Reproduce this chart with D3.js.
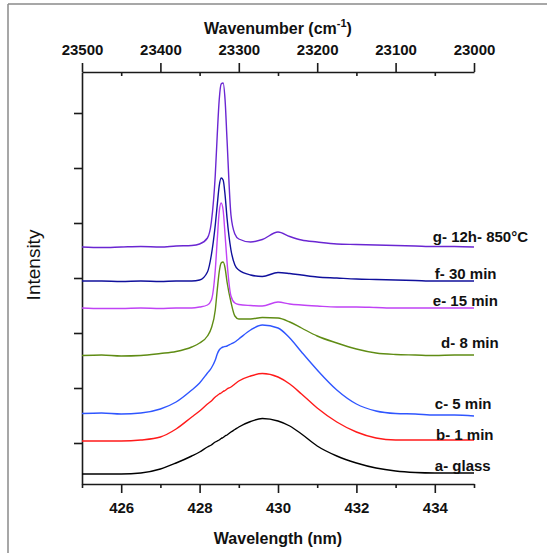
<!DOCTYPE html>
<html>
<head>
<meta charset="utf-8">
<script src="https://cdn.jsdelivr.net/npm/d3@7"></script>
<style>
  html, body { margin: 0; padding: 0; background: #fff; }
  svg { display: block; font-family: "Liberation Sans", Arial, sans-serif; }
</style>
</head>
<body>
<svg id="chart" width="547" height="553"></svg>
<script>
// ---------------- DATA ----------------
const wavelengths = [425, 425.5, 426, 426.5, 427, 427.4, 427.8, 428.0, 428.2, 428.3, 428.4, 428.45, 428.5, 428.55, 428.6, 428.65, 428.7, 428.8, 428.9, 429.0, 429.3, 429.6, 430.0, 430.3, 430.6, 431.0, 431.5, 432.0, 432.5, 433.0, 433.5, 434.0, 434.5, 435];

const seriesA = [10, 10, 10, 11, 15, 21, 28, 32, 37, 39, 42, 43, 44, 45.5, 46.5, 48, 49, 52, 54.5, 57, 62.5, 65.5, 63, 58, 50, 38, 28, 21, 16, 13, 11.5, 11, 11, 11];
const seriesB = [43, 43, 43, 44, 47, 55, 67, 73, 80, 83, 87, 88.5, 90, 91, 92.5, 93.5, 95, 97, 100, 103, 108, 110.5, 107, 100, 90, 76, 62, 52, 46, 44, 44, 44, 44, 44];
const seriesC = [70.5, 71, 70, 71, 75, 82, 94, 101, 111, 116, 124, 130, 134, 136, 137, 137.5, 138, 140, 142, 145, 154, 159, 156, 146, 132, 114, 94, 80, 73, 70.5, 70, 69, 69, 68];
const seriesD = [128.5, 129, 128, 128.5, 130.5, 132.5, 137, 141, 148, 156, 174, 194, 212, 221, 222, 216, 202, 182, 168, 165, 165, 166.5, 166, 162, 156, 148, 141, 135, 131, 129.5, 129, 128.5, 129, 129];
const seriesE = [176, 175.5, 175.5, 176, 175.5, 176, 176, 177, 179, 184, 214, 244, 272, 281, 274, 249, 222, 188, 181, 179.5, 178.5, 178, 182, 180, 179, 178, 177, 177, 176.5, 176, 176, 176, 176, 176];
const seriesF = [203, 203, 202.5, 203, 202.5, 203, 203, 204, 212, 229, 259, 279, 298, 306, 304, 289, 266, 234, 219, 214, 209, 207.5, 211.5, 210.5, 209, 207, 206, 205, 204.5, 204, 203.5, 203, 203, 203];
const seriesG = [237, 236.5, 237, 237.5, 237, 238, 238.5, 240, 246, 262, 309, 349, 384, 400, 401, 384, 344, 269, 250, 245, 242, 244.5, 252, 247.5, 244, 242, 240, 239.5, 239, 238.5, 238, 237.5, 237.5, 237];

const seriesNames = ["a- glass", "b- 1 min", "c- 5 min", "d- 8 min", "e- 15 min", "f- 30 min", "g- 12h- 850°C"];
const seriesColors = ["#000000", "#ff1a1a", "#2f56ff", "#5f8c14", "#c043f5", "#10109c", "#6a26d2"];
const seriesValues = [seriesA, seriesB, seriesC, seriesD, seriesE, seriesF, seriesG];

const xMajorTicks = [426, 428, 430, 432, 434];
const xMinorTicks = [425, 427, 429, 431, 433, 435];
const topMajorTicks = [23500, 23400, 23300, 23200, 23100, 23000];
const topMinorTicks = [23450, 23350, 23250, 23150, 23050];
const yTicks = [41, 96, 151, 206, 261, 316, 371];

// label anchor (x start in nm, baseline in intensity units)
const labelX = [434.0, 434.03, 434.0, 434.16, 433.95, 434.0, 433.95];
const labelY = [13, 44, 75, 136, 178, 205, 242];

// ---------------- LAYOUT ----------------
const svg = d3.select("#chart");
const mLeft = 82, mRight = 474, mTop = 72, mBottom = 484;

const x = d3.scaleLinear().domain([425, 435]).range([mLeft, mRight]);
const xTop = d3.scaleLinear().domain([23500, 23000]).range([mLeft, mRight]);
const y = d3.scaleLinear().domain([0, 412]).range([mBottom, mTop]);

// outer grey frame (top and left)
svg.append("line").attr("x1", 8).attr("x2", 547).attr("y1", 4).attr("y2", 4)
  .attr("stroke", "#8a8a8a").attr("stroke-width", 1.5);
svg.append("line").attr("x1", 8).attr("x2", 8).attr("y1", 4).attr("y2", 553)
  .attr("stroke", "#8a8a8a").attr("stroke-width", 1.5);

const axisColor = "#1a1a1a";
function styleAxis(g) {
  g.selectAll("path.domain").attr("stroke", axisColor).attr("stroke-width", 1.6);
  g.selectAll(".tick line").attr("stroke", axisColor).attr("stroke-width", 1.6);
  g.selectAll("text").attr("fill", "#111").attr("font-size", 15).attr("font-weight", "bold")
    .attr("font-family", "Liberation Sans, Arial, sans-serif");
}

// bottom axis
const gxMinor = svg.append("g").attr("transform", `translate(0,${mBottom})`)
  .call(d3.axisBottom(x).tickValues(xMinorTicks).tickSize(4).tickSizeOuter(0).tickFormat(""));
styleAxis(gxMinor);
const gx = svg.append("g").attr("transform", `translate(0,${mBottom})`)
  .call(d3.axisBottom(x).tickValues(xMajorTicks).tickSize(9).tickSizeOuter(0).tickFormat(d3.format("d")));
styleAxis(gx);
gx.select("path.domain").remove();
gx.selectAll("text").attr("y", 18).attr("dy", "0.71em");

// top axis
const gtMinor = svg.append("g").attr("transform", `translate(0,${mTop})`)
  .call(d3.axisTop(xTop).tickValues(topMinorTicks).tickSize(-4).tickSizeOuter(0).tickFormat(""));
styleAxis(gtMinor);
const gt = svg.append("g").attr("transform", `translate(0,${mTop})`)
  .call(d3.axisTop(xTop).tickValues(topMajorTicks).tickSize(9).tickSizeOuter(0).tickFormat(d3.format("d")));
styleAxis(gt);
gt.select("path.domain").remove();
gt.selectAll("text").attr("y", -17).attr("dy", "0");

// left axis
const gy = svg.append("g").attr("transform", `translate(${mLeft},0)`)
  .call(d3.axisLeft(y).tickValues(yTicks).tickSize(8).tickSizeOuter(0).tickFormat(""));
styleAxis(gy);

// axis titles
svg.append("text").attr("x", (mLeft + mRight) / 2).attr("y", 544)
  .attr("text-anchor", "middle").attr("font-size", 16).attr("font-weight", "bold").attr("fill", "#111")
  .text("Wavelength (nm)");

const topTitle = svg.append("text").attr("x", (mLeft + mRight) / 2).attr("y", 34)
  .attr("text-anchor", "middle").attr("font-size", 16).attr("font-weight", "bold").attr("fill", "#111");
topTitle.append("tspan").text("Wavenumber (cm");
topTitle.append("tspan").attr("font-size", 11).attr("dy", -7).text("-1");
topTitle.append("tspan").attr("dy", 7).text(")");

svg.append("text").attr("transform", "translate(40,265) rotate(-90)")
  .attr("text-anchor", "middle").attr("font-size", 19).attr("fill", "#111")
  .text("Intensity");

// ---------------- SERIES ----------------
const line = d3.line()
  .x(d => x(d[0]))
  .y(d => y(d[1]))
  .curve(d3.curveMonotoneX);

seriesValues.forEach((vals, i) => {
  const pts = wavelengths.map((w, j) => [w, vals[j]]);
  svg.append("path").datum(pts)
    .attr("d", line)
    .attr("fill", "none")
    .attr("stroke", seriesColors[i])
    .attr("stroke-width", 1.4)
    .attr("stroke-linejoin", "round");
});

// labels
seriesNames.forEach((name, i) => {
  svg.append("text")
    .attr("x", x(labelX[i]))
    .attr("y", y(labelY[i]))
    .attr("font-size", 15).attr("font-weight", "bold").attr("fill", "#111")
    .text(name);
});
</script>
</body>
</html>
